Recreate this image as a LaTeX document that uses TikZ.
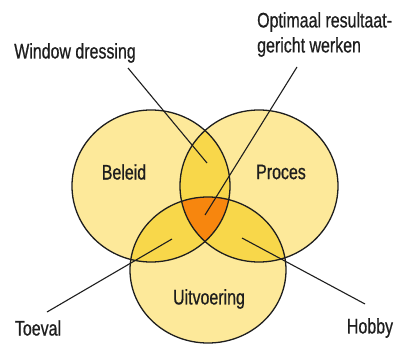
\documentclass[tikz,border=0pt]{standalone}
\usepackage{fontspec}
\setmainfont[FakeStretch=0.76,FakeBold=0.7]{Liberation Sans}
\definecolor{single}{HTML}{FDE99A}
\definecolor{pair}{HTML}{F8D74A}
\definecolor{triple}{HTML}{F7860E}
\definecolor{ink}{HTML}{1E1E1E}
\begin{document}
\begin{tikzpicture}[x=1pt,y=-1pt,
  lbl/.style={font=\fontsize{21}{25}\selectfont, text=ink, inner sep=0pt},
  outline/.style={draw=ink, line width=1.3pt},
  leader/.style={draw=ink, line width=1.1pt}]
\useasboundingbox (0,0) rectangle (394,345);
\def\pB{(151,186) ellipse [x radius=79, y radius=76]}
\def\pP{(259,186) ellipse [x radius=79, y radius=76]}
\def\pU{(208,270) ellipse [x radius=78, y radius=73]}
% single fills
\fill[single] \pB; \fill[single] \pP; \fill[single] \pU;
% pairwise
\begin{scope}\clip \pB; \fill[pair] \pP; \fill[pair] \pU;\end{scope}
\begin{scope}\clip \pP; \fill[pair] \pU;\end{scope}
% triple
\begin{scope}\clip \pB; \clip \pP; \fill[triple] \pU;\end{scope}
% outlines
\draw[outline] \pB; \draw[outline] \pP; \draw[outline] \pU;
% labels
\node[lbl] (beleid) at (124,172) {Beleid};
\node[lbl] (proces) at (281,172) {Proces};
\node[lbl] (uitv) at (209,299) {Uitvoering};
\node[lbl] (window) at (75,53) {Window dressing};
\node[lbl, align=left, anchor=north west] (optimaal) at (257,12) {Optimaal resultaat-\\gericht werken};
\node[lbl] (toeval) at (38,328) {Toeval};
\node[lbl] (hobby) at (370,328) {Hobby};
% leader ends
\coordinate (wA) at (128,68); \coordinate (wB) at (207,163);
\coordinate (oA) at (297,67); \coordinate (oB) at (205,215);
\coordinate (tA) at (47,312); \coordinate (tB) at (172,239);
\coordinate (hA) at (365,304); \coordinate (hB) at (242,238);
\draw[leader] (wA) -- (wB);
\draw[leader] (oA) -- (oB);
\draw[leader] (tA) -- (tB);
\draw[leader] (hA) -- (hB);
\end{tikzpicture}
\end{document}
